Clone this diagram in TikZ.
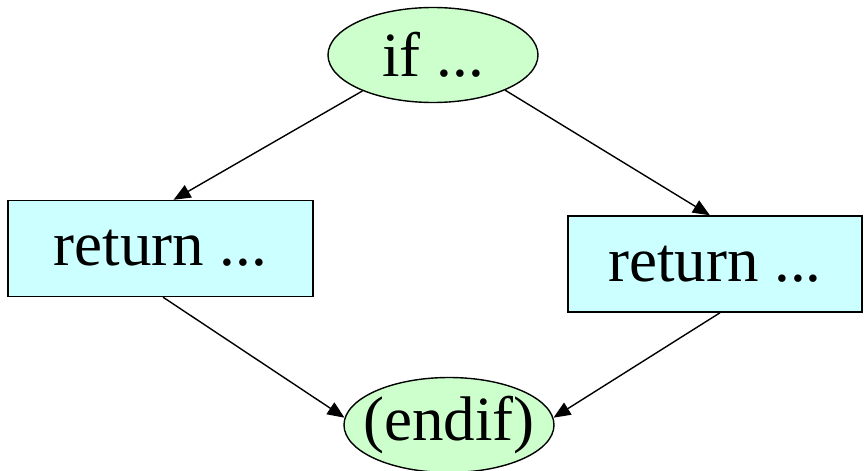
\documentclass[tikz,border=0pt]{standalone}
\usepackage{fontspec}
\setmainfont{Liberation Serif}
\usetikzlibrary{arrows.meta,shapes.geometric}
\definecolor{termgreen}{HTML}{CCFFCC}
\definecolor{stmtcyan}{HTML}{CCFFFF}
\begin{document}
\begin{tikzpicture}[x=0.5pt,y=-0.5pt,
  every node/.style={font=\fontsize{31.5}{36}\selectfont, inner sep=0pt},
  term/.style={ellipse, draw=black, line width=0.7pt, fill=termgreen,
               minimum width=105pt, minimum height=47.5pt},
  stmt/.style={rectangle, draw=black, line width=0.7pt, fill=stmtcyan,
               minimum height=48pt},
  flow/.style={line width=0.7pt, -{Triangle[length=8.5pt,width=7pt]}}]
  \useasboundingbox (0,0) rectangle (864,471);
  % nodes (ellipse labels boxed at zero width so the outline keeps its size)
  \node[term] (if) at (433,55) {\makebox[0pt]{if ...}};
  \node[stmt, minimum width=152.5pt] (ret1) at (160.5,248.5) {return ...};
  \node[stmt, minimum width=147pt] (ret2) at (715,264) {return ...};
  \node[term] (endif) at (449,425) {\makebox[0pt]{(endif)}};
  % control-flow edges
  \draw[flow] (if.-153.7) -- (ret1.75.5);
  \draw[flow] (if.-26.6) -- (ret2.96);
  \draw[flow] (ret1.-87.6) -- (endif.176);
  \draw[flow] (ret2.-84) -- (endif.4.3);
\end{tikzpicture}
\end{document}
